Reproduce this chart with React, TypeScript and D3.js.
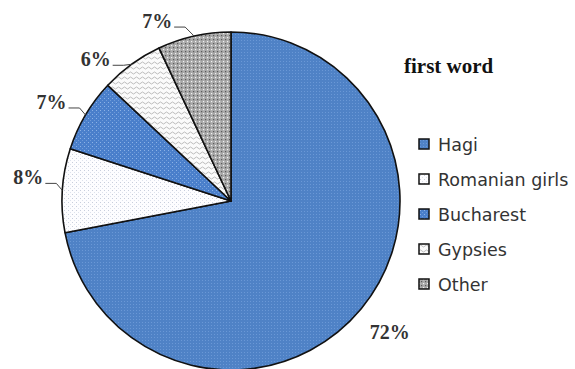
import React from "react";
import * as d3 from "d3";

const categories = ["Hagi", "Romanian girls", "Bucharest", "Gypsies", "Other"];
const values = [72, 8, 7, 6, 7];
const labels = ["72%", "8%", "7%", "6%", "7%"];
const title = "first word";

const W = 575, H = 369;
const cx = 231, cy = 201, R = 169;
// fine label nudges (layout only)
const labelNudgeY = [0, 0, 0, 8, -2];
const labelNudgeX = [0, 0, 0, -2, -3];

const patternIds = ["pHagi", "pRom", "pBuc", "pGyp", "pOth"];

export default function App() {
  const pie = d3.pie<number>().sort(null).value((d) => d);
  const arcs = pie(values);
  const arc = d3.arc<d3.PieArcDatum<number>>().innerRadius(0).outerRadius(R);
  const pt = (a: number, r: number) => [r * Math.sin(a), -r * Math.cos(a)];

  return (
    <svg width={W} height={H} style={{ position: "absolute", left: 0, top: 0, background: "#fff" }}>
      <defs>
        <pattern id="pHagi" width="3" height="3" patternUnits="userSpaceOnUse">
          <rect width="3" height="3" fill="#4f82c6" />
          <rect x="1" y="1" width="1" height="1" fill="#6a98d6" />
        </pattern>
        <pattern id="pRom" width="4" height="4" patternUnits="userSpaceOnUse">
          <rect width="4" height="4" fill="#fdfdff" />
          <rect x="1" y="1" width="1" height="1" fill="#c8cedc" />
          <rect x="3" y="3" width="1" height="1" fill="#dde2ec" />
        </pattern>
        <pattern id="pBuc" width="4" height="4" patternUnits="userSpaceOnUse">
          <rect width="4" height="4" fill="#4a7fcb" />
          <rect x="1" y="1" width="1" height="1" fill="#8cb2e6" />
          <rect x="3" y="3" width="1" height="1" fill="#6f9bd9" />
        </pattern>
        <pattern id="pGyp" width="6" height="5" patternUnits="userSpaceOnUse">
          <rect width="6" height="5" fill="#fbfbfb" />
          <path d="M0,2 L1.5,1 L3,2 L4.5,3 L6,2" stroke="#b4b4b4" strokeWidth="0.9" fill="none" />
        </pattern>
        <pattern id="pOth" width="4" height="4" patternUnits="userSpaceOnUse">
          <rect width="4" height="4" fill="#a9a9a9" />
          <rect x="0" y="0" width="1.2" height="1.2" fill="#f2f2f2" />
          <rect x="2" y="2" width="1.2" height="1.2" fill="#5a5a5a" />
        </pattern>
      </defs>

      <g transform={`translate(${cx},${cy})`}>
        {arcs.map((a, i) => (
          <path key={i} d={arc(a) || ""} fill={`url(#${patternIds[i]})`} stroke="#111" strokeWidth={1.6} strokeLinejoin="round" />
        ))}
        {arcs.map((a, i) => {
          const mid = (a.startAngle + a.endAngle) / 2;
          if (i === 0) {
            const [x, y] = pt(mid, R + 37);
            return (
              <text key={i} x={x} y={y + 7} textAnchor="middle" fontFamily="Liberation Serif" fontWeight="bold" fontSize={20} fill="#333">
                {labels[i]}
              </text>
            );
          }
          const [ex, ey] = pt(mid, R);
          const tx = ex - 19 + labelNudgeX[i], ty = ey - 6 + labelNudgeY[i];
          return (
            <g key={i}>
              <polyline points={`${tx + 2},${ty - 1} ${tx + 13},${ty - 1} ${ex},${ey}`} fill="none" stroke="#444" strokeWidth={1} />
              <text x={tx} y={ty} textAnchor="end" fontFamily="Liberation Serif" fontWeight="bold" fontSize={20} fill="#333">
                {labels[i]}
              </text>
            </g>
          );
        })}
      </g>

      <text x={404} y={73} fontFamily="Liberation Serif" fontWeight="bold" fontSize={21} fill="#111">
        {title}
      </text>

      {categories.map((c, i) => (
        <g key={c} transform={`translate(419,${139 + i * 35})`}>
          <rect x={0} y={0} width={10} height={10} fill={`url(#${patternIds[i]})`} stroke="#111" strokeWidth={1.5} />
          <text x={19} y={11.5} fontFamily="DejaVu Sans" fontSize={17.5} fill="#333">
            {c}
          </text>
        </g>
      ))}
    </svg>
  );
}
